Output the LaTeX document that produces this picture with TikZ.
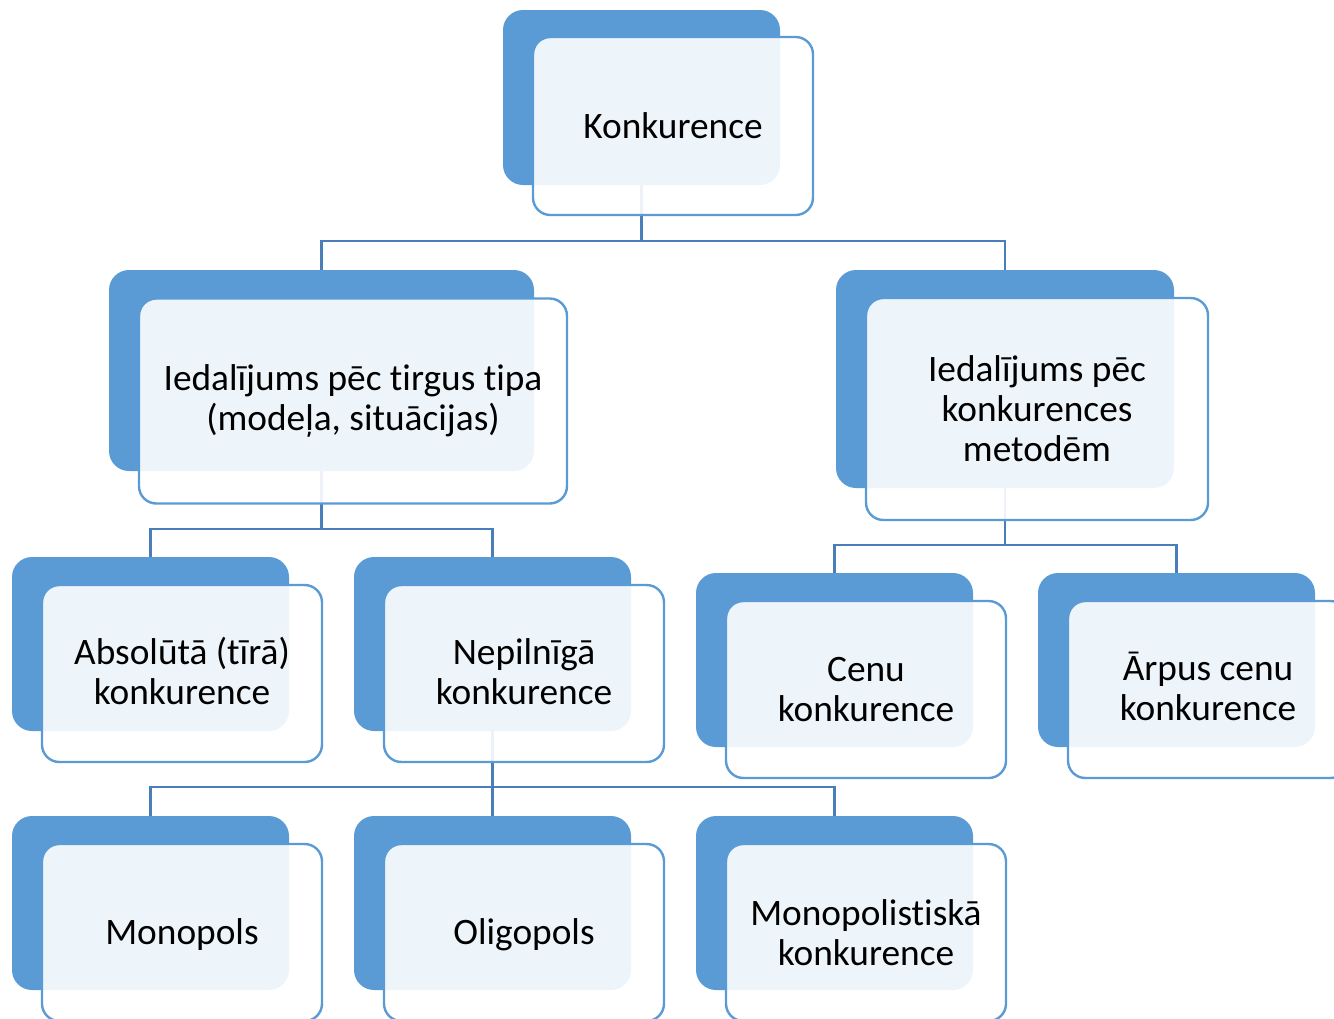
\documentclass[tikz,border=0pt]{standalone}
\usepackage{fontspec}
\setmainfont[Ligatures=NoCommon]{Carlito}
\definecolor{boxblue}{HTML}{5B9BD5}
\definecolor{linkblue}{HTML}{4A7EBB}
\begin{document}
\begin{tikzpicture}[x=0.75pt,y=-0.75pt,
  back/.style 2 args={rectangle, rounded corners=15pt, fill=boxblue, draw=none,
    inner sep=0pt, minimum width=#1*0.75pt, minimum height=#2*0.75pt},
  front/.style 2 args={rectangle, rounded corners=13pt, fill=white, fill opacity=0.9,
    draw=boxblue, line width=1.8pt, inner sep=0pt,
    minimum width=#1*0.75pt, minimum height=#2*0.75pt},
  label/.style={align=center, inner sep=0pt, font=\fontsize{28}{30}\selectfont},
  link/.style={draw=linkblue, line width=2pt}]
\useasboundingbox (0,0) rectangle (1334,1018);
\clip (0,0) rectangle (1334,1018);

% back panels
\node[back={277}{175}] (kB) at (641.5,97.5) {};
\node[back={425}{201}] (tB) at (321.5,370.5) {};
\node[back={338}{218}] (mB) at (1005,379) {};
\node[back={277}{174}] (aB) at (150.5,644) {};
\node[back={277}{174}] (nB) at (492.5,644) {};
\node[back={277}{174}] (cB) at (834.5,660) {};
\node[back={277}{174}] (rB) at (1176.5,660) {};
\node[back={277}{174}] (moB) at (150.5,903) {};
\node[back={277}{174}] (oB) at (492.5,903) {};
\node[back={277}{174}] (mkB) at (834.5,903) {};

% hierarchy connectors
\draw[link] (kB.south) -- (kB.south |- 0,241) -| (tB.north);
\draw[link] (kB.south) -- (kB.south |- 0,241) -| (mB.north);
\draw[link] (tB.south) -- (tB.south |- 0,529) -| (aB.north);
\draw[link] (tB.south) -- (tB.south |- 0,529) -| (nB.north);
\draw[link] (mB.south) -- (mB.south |- 0,545) -| (cB.north);
\draw[link] (mB.south) -- (mB.south |- 0,545) -| (rB.north);
\draw[link] (nB.south) -- (nB.south |- 0,787) -| (moB.north);
\draw[link] (nB.south) -- (oB.north);
\draw[link] (nB.south) -- (nB.south |- 0,787) -| (mkB.north);

% front panels (outline and white wash)
\node[front={280}{178}] (k) at (673,126) {};
\node[front={428}{205}] (t) at (353,401) {};
\node[front={342}{222}] (m) at (1037,409) {};
\node[front={280}{177}] (a) at (182,673.5) {};
\node[front={280}{177}] (n) at (524,673.5) {};
\node[front={280}{177}] (c) at (866,689.5) {};
\node[front={280}{177}] (r) at (1208,689.5) {};
\node[front={280}{177}] (mo) at (182,932.5) {};
\node[front={280}{177}] (o) at (524,932.5) {};
\node[front={280}{177}] (mk) at (866,932.5) {};

% labels
\node[label] (kT) at (k.center) {Konkurence};
\node[label] (tT) at (t.center) {Iedalījums pēc tirgus tipa\\(modeļa, situācijas)};
\node[label] (mT) at (m.center) {Iedalījums pēc\\konkurences\\metodēm};
\node[label] (aT) at ([yshift=2pt]a.center) {Absolūtā (tīrā)\\konkurence};
\node[label] (nT) at ([yshift=1.5pt]n.center) {Nepilnīgā\\konkurence};
\node[label] (cT) at (c.center) {Cenu\\konkurence};
\node[label] (rT) at ([yshift=2pt]r.center) {Ārpus cenu\\konkurence};
\node[label] (moT) at ([yshift=-1.5pt]mo.center) {Monopols};
\node[label] (oT) at ([yshift=-1.5pt]o.center) {Oligopols};
\node[label] (mkT) at (mk.center) {Monopolistiskā\\konkurence};
\end{tikzpicture}
\end{document}
